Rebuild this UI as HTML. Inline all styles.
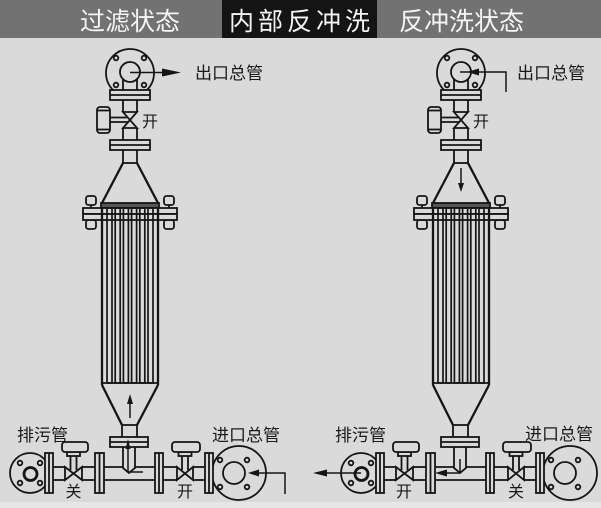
<!DOCTYPE html>
<html>
<head>
<meta charset="utf-8">
<style>
  html,body{margin:0;padding:0;background:#dadada;}
  svg{display:block;}
  .hd{font-family:"Liberation Sans","Noto Sans CJK SC",sans-serif;font-size:25px;fill:#f4f4f4;}
  .lb{font-family:"Liberation Sans","Noto Sans CJK SC",sans-serif;font-size:17px;fill:#1a1a1a;}
  .vl{font-family:"Liberation Sans","Noto Sans CJK SC",sans-serif;font-size:16px;fill:#1a1a1a;}
</style>
</head>
<body>
<svg width="601" height="508" viewBox="0 0 601 508" xmlns="http://www.w3.org/2000/svg">
  <rect x="0" y="0" width="601" height="508" fill="#dadada"/>
  <rect x="0" y="502" width="601" height="6" fill="#e6e6e6"/>
  <!-- header -->
  <rect x="0" y="0" width="601" height="38" fill="#727272"/>
  <rect x="222" y="0" width="155" height="38" fill="#141414"/>
  <text class="hd" x="80" y="30">过滤状态</text>
  <text class="hd" x="229" y="30" letter-spacing="4">内部反冲洗</text>
  <text class="hd" x="399" y="30">反冲洗状态</text>

  <defs>
    <g id="unit" fill="none" stroke="#151515" stroke-width="1.8">
      <!-- top flange -->
      <circle cx="130" cy="73" r="24" fill="#dadada"/>
      <circle cx="130" cy="72" r="10"/>
      <circle cx="116" cy="58" r="2.3"/>
      <circle cx="144" cy="58" r="2.3"/>
      <circle cx="116" cy="85" r="2.3"/>
      <circle cx="144" cy="85" r="2.3"/>
      <line x1="123" y1="79" x2="123" y2="90"/>
      <line x1="137" y1="79" x2="137" y2="90"/>
      <rect x="110" y="90" width="40" height="10" fill="#dadada"/>
      <line x1="110" y1="95" x2="150" y2="95"/>
      <line x1="123" y1="100" x2="123" y2="112"/>
      <line x1="137" y1="100" x2="137" y2="112"/>
      <!-- top valve -->
      <path d="M123,112 L137,112 L123,128 L137,128 Z" fill="#dadada"/>
      <line x1="110" y1="117.5" x2="127" y2="117.5"/>
      <line x1="110" y1="122" x2="128" y2="122"/>
      <rect x="97" y="107" width="13" height="26" rx="3" fill="#dadada"/>
      <line x1="97" y1="110.5" x2="110" y2="110.5"/>
      <line x1="97" y1="129.5" x2="110" y2="129.5"/>
      <line x1="123" y1="128" x2="123" y2="140"/>
      <line x1="137" y1="128" x2="137" y2="140"/>
      <rect x="110" y="140" width="40" height="10" fill="#dadada"/>
      <line x1="110" y1="145" x2="150" y2="145"/>
      <line x1="123" y1="150" x2="123" y2="163"/>
      <line x1="137" y1="150" x2="137" y2="163"/>
      <line x1="123" y1="163" x2="137" y2="163"/>
      <!-- top cone -->
      <path d="M123,163 L102,203 M137,163 L158,203" stroke-width="2.3"/>
      <rect x="101" y="203" width="58" height="5" fill="#555"/>
      <!-- bolts -->
      <line x1="91" y1="200" x2="91" y2="226"/>
      <line x1="169" y1="200" x2="169" y2="226"/>
      <rect x="86" y="196" width="10" height="9" rx="2.5" fill="#dadada"/>
      <rect x="86" y="220" width="10" height="9" rx="2.5" fill="#dadada"/>
      <rect x="164" y="196" width="10" height="9" rx="2.5" fill="#dadada"/>
      <rect x="164" y="220" width="10" height="9" rx="2.5" fill="#dadada"/>
      <!-- flange bands -->
      <rect x="83" y="208" width="94" height="6" fill="#dadada"/>
      <rect x="83" y="214" width="94" height="6" fill="#dadada"/>
      <!-- body -->
      <line x1="102" y1="208" x2="102" y2="385" stroke-width="2.3"/>
      <line x1="158" y1="208" x2="158" y2="385" stroke-width="2.3"/>
      <!-- tubes -->
      <g stroke-width="1.7">
        <rect x="107" y="208" width="5" height="175"/>
        <rect x="115.2" y="208" width="5" height="175"/>
        <rect x="123.4" y="208" width="5" height="175"/>
        <rect x="131.6" y="208" width="5" height="175"/>
        <rect x="139.8" y="208" width="5" height="175"/>
        <rect x="148" y="208" width="5" height="175"/>
      </g>
      <line x1="102" y1="383" x2="158" y2="383"/>
      <!-- bottom cone -->
      <path d="M102,385 L122,425 M158,385 L137,425" stroke-width="2.3"/>
      <line x1="122" y1="425" x2="137" y2="425"/>
      <line x1="122" y1="425" x2="122" y2="437"/>
      <line x1="137" y1="425" x2="137" y2="437"/>
      <rect x="110" y="437" width="38" height="10" fill="#dadada"/>
      <line x1="110" y1="442" x2="148" y2="442"/>
      <!-- bottom line pipe -->
      <line x1="53" y1="467" x2="65" y2="467"/>
      <line x1="53" y1="480" x2="65" y2="480"/>
      <line x1="82" y1="467" x2="95" y2="467"/>
      <line x1="82" y1="480" x2="95" y2="480"/>
      <line x1="104" y1="467" x2="123" y2="467"/>
      <line x1="135" y1="467" x2="155" y2="467"/>
      <line x1="104" y1="480" x2="155" y2="480"/>
      <line x1="163" y1="467" x2="177" y2="467"/>
      <line x1="163" y1="480" x2="177" y2="480"/>
      <line x1="193" y1="467" x2="205" y2="467"/>
      <line x1="193" y1="480" x2="205" y2="480"/>
      <!-- vertical down pipe -->
      <path d="M123,447 L123,468 L129,473 L135,468 L135,447"/>
      <!-- left drain flange -->
      <circle cx="30" cy="473" r="20" fill="#dadada"/>
      <circle cx="30.5" cy="474" r="6.5" stroke-width="2.8"/>
      <circle cx="20" cy="463" r="2.3"/>
      <circle cx="40" cy="463" r="2.3"/>
      <circle cx="20" cy="483" r="2.3"/>
      <circle cx="40" cy="483" r="2.3"/>
      <rect x="45" y="453" width="8" height="40" fill="#dadada"/>
      <line x1="49" y1="453" x2="49" y2="493"/>
      <!-- valve 1 -->
      <path d="M65,467 L65,480 L82,467 L82,480 Z" fill="#dadada"/>
      <line x1="70.5" y1="455" x2="70.5" y2="470"/>
      <line x1="76.5" y1="455" x2="76.5" y2="470"/>
      <rect x="67" y="452" width="13" height="4" fill="#dadada"/>
      <rect x="62" y="442" width="26" height="10" rx="3" fill="#dadada"/>
      <!-- flange 2 -->
      <rect x="95" y="453" width="9" height="40" fill="#dadada"/>
      <line x1="99.5" y1="453" x2="99.5" y2="493"/>
      <!-- flange 3 -->
      <rect x="155" y="453" width="8" height="40" fill="#dadada"/>
      <line x1="159" y1="453" x2="159" y2="493"/>
      <!-- valve 2 -->
      <path d="M177,467 L177,480 L193,467 L193,480 Z" fill="#dadada"/>
      <line x1="182" y1="455" x2="182" y2="470"/>
      <line x1="188" y1="455" x2="188" y2="470"/>
      <rect x="178.5" y="452" width="13" height="4" fill="#dadada"/>
      <rect x="172" y="442" width="28" height="10" rx="3" fill="#dadada"/>
      <!-- right inlet flange -->
      <circle cx="239" cy="473" r="27" fill="#dadada"/>
      <circle cx="234" cy="473" r="11"/>
      <circle cx="220" cy="460" r="2.3"/>
      <circle cx="247" cy="460" r="2.3"/>
      <circle cx="220" cy="487" r="2.3"/>
      <circle cx="247" cy="487" r="2.3"/>
      <rect x="205" y="453" width="8" height="40" fill="#dadada"/>
      <line x1="209" y1="453" x2="209" y2="493"/>
    </g>
  </defs>

  <use href="#unit"/>
  <use href="#unit" transform="translate(331,0)"/>

  <!-- LEFT: filtering arrows -->
  <g stroke="#151515" stroke-width="1.5" fill="none">
    <line x1="130" y1="72.5" x2="163" y2="72.5"/>
    <line x1="130" y1="418" x2="130" y2="402"/>
    <path d="M143,472 L128,472 L128,447"/>
    <path d="M285,494 L285,473 L257,473"/>
  </g>
  <g fill="#151515">
    <polygon points="162,68.5 181,72.5 162,76.5"/>
    <polygon points="127,404 130,394 133,404"/>
    <polygon points="125.5,449 128,439 130.5,449"/>
    <polygon points="259,469.5 248,473 259,476.5"/>
  </g>

  <!-- RIGHT: backwash arrows -->
  <g stroke="#151515" stroke-width="1.5" fill="none">
    <path d="M506,92 L506,72 L460,72"/>
    <line x1="461" y1="168" x2="461" y2="185"/>
    <path d="M460,459 L460,473 L446,473"/>
    <line x1="361" y1="473" x2="326" y2="473"/>
  </g>
  <g fill="#151515">
    <polygon points="479,68.5 467,72 479,75.5"/>
    <polygon points="458,183 461,192 464,183"/>
    <polygon points="447,469.5 435,473 447,476.5"/>
    <polygon points="327,469.5 313,473 327,476.5"/>
  </g>

  <!-- labels left -->
  <text class="lb" x="195" y="79">出口总管</text>
  <text class="vl" x="142" y="127">开</text>
  <text class="lb" x="17" y="441">排污管</text>
  <text class="lb" x="212" y="441">进口总管</text>
  <text class="vl" x="73.5" y="497" text-anchor="middle">关</text>
  <text class="vl" x="185" y="497" text-anchor="middle">开</text>

  <!-- labels right -->
  <text class="lb" x="517" y="79">出口总管</text>
  <text class="vl" x="473" y="127">开</text>
  <text class="lb" x="335" y="441">排污管</text>
  <text class="lb" x="525" y="440">进口总管</text>
  <text class="vl" x="404" y="497" text-anchor="middle">开</text>
  <text class="vl" x="516" y="497" text-anchor="middle">关</text>
</svg>
</body>
</html>
